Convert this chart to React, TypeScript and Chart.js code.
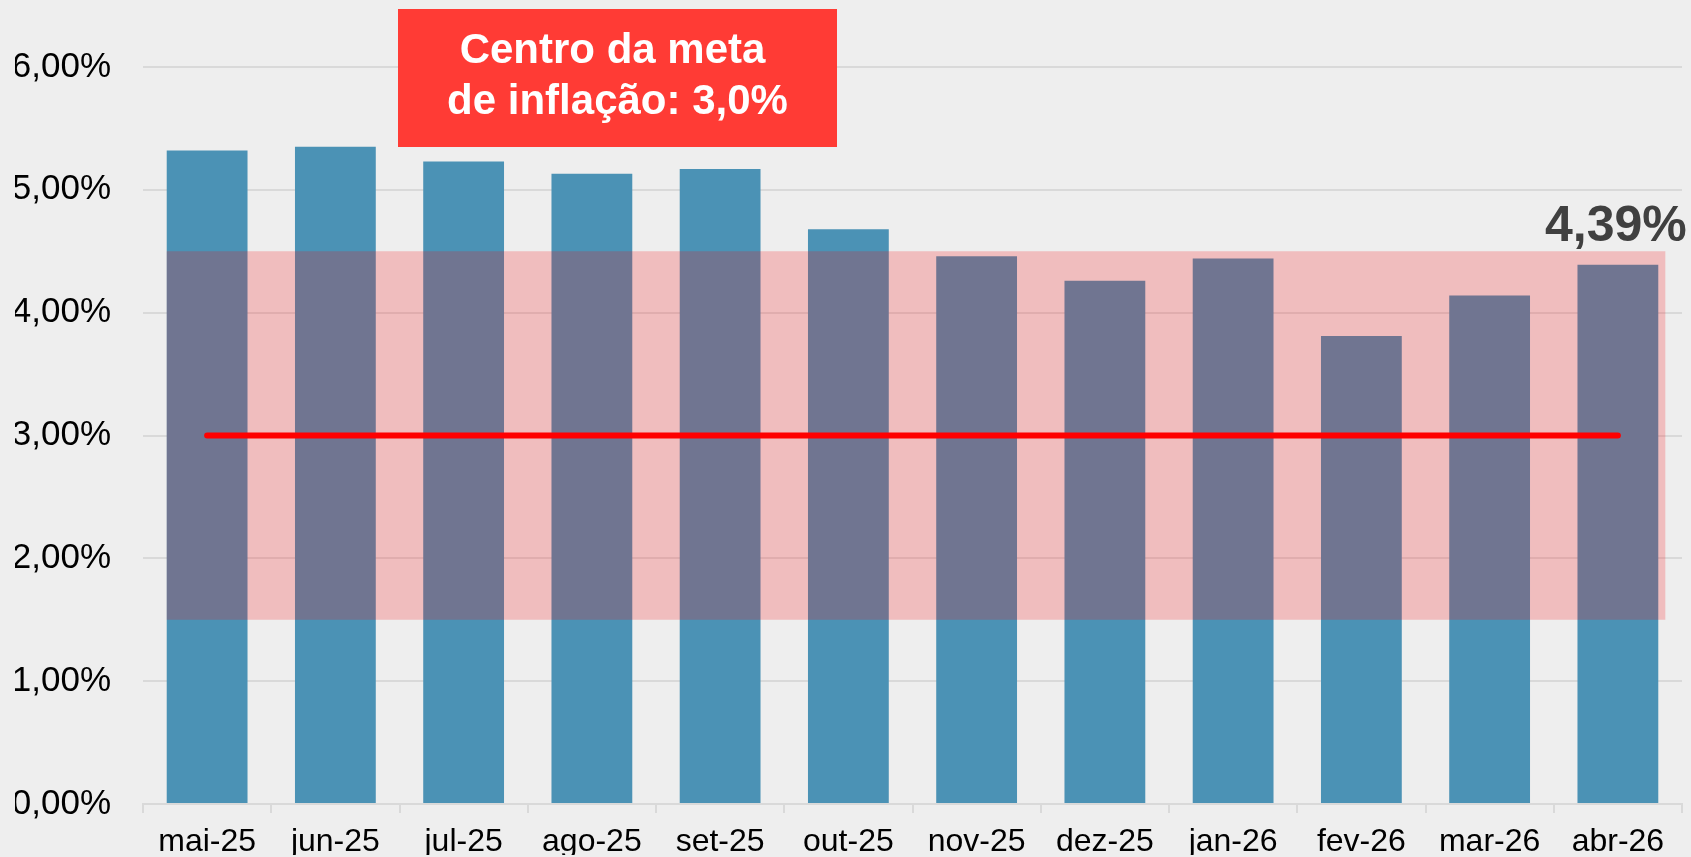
import React, { useEffect, useRef } from 'react';
import { Chart, registerables } from 'chart.js';

Chart.register(...registerables);

// ---- data ----
const CATEGORIES = [
  'mai-25', 'jun-25', 'jul-25', 'ago-25', 'set-25', 'out-25',
  'nov-25', 'dez-25', 'jan-26', 'fev-26', 'mar-26', 'abr-26',
];
const IPCA_12M = [5.32, 5.35, 5.23, 5.13, 5.17, 4.68, 4.46, 4.26, 4.44, 3.81, 4.14, 4.39];
const META_CENTRO = [3.0, 3.0, 3.0, 3.0, 3.0, 3.0, 3.0, 3.0, 3.0, 3.0, 3.0, 3.0];
const BAND_LOW = 1.5;
const BAND_HIGH = 4.5;
const BAND_X_START = -0.315;
const BAND_X_END = 11.37;
const Y_TICKS = [0, 1, 2, 3, 4, 5, 6];
const BOX_LINES = ['Centro da meta', 'de inflação: 3,0%'];

const FONT = '"Liberation Sans", Arial, sans-serif';
const fmtPct = (v: number) => v.toFixed(2).replace('.', ',') + '%';

const bandPlugin = {
  id: 'toleranceBand',
  afterDatasetDraw(chart: any, args: any) {
    if (args.index !== 0) return;
    const { ctx, scales } = chart;
    const x = scales.x;
    const y = scales.y;
    const left = x.getPixelForValue(BAND_X_START);
    const right = x.getPixelForValue(BAND_X_END);
    const top = y.getPixelForValue(BAND_HIGH);
    const bottom = y.getPixelForValue(BAND_LOW);
    ctx.save();
    ctx.fillStyle = 'rgba(252, 11, 15, 0.21)';
    ctx.fillRect(left, top, right - left, bottom - top);
    ctx.restore();
  },
};

const annotationPlugin = {
  id: 'annotations',
  afterDraw(chart: any) {
    const { ctx } = chart;
    const meta = chart.getDatasetMeta(0);
    const lastIdx = IPCA_12M.length - 1;
    const el = meta.data[lastIdx];
    ctx.save();
    ctx.fillStyle = '#404040';
    ctx.font = `bold 50px ${FONT}`;
    ctx.textAlign = 'center';
    ctx.textBaseline = 'alphabetic';
    ctx.fillText(fmtPct(IPCA_12M[lastIdx]), el.x - 2, el.y - 24);

    // red box
    const bx = 398, by = 9, bw = 439, bh = 138;
    ctx.fillStyle = '#FF3B35';
    ctx.fillRect(bx, by, bw, bh);
    ctx.fillStyle = '#FFFFFF';
    ctx.font = `bold 42px ${FONT}`;
    ctx.textAlign = 'center';
    ctx.fillText(BOX_LINES[0], bx + bw / 2 - 5, 63);
    ctx.fillText(BOX_LINES[1], bx + bw / 2, 114);
    ctx.restore();
  },
};

export default function App() {
  const canvasRef = useRef<HTMLCanvasElement | null>(null);

  useEffect(() => {
    const canvas = canvasRef.current;
    if (!canvas) return;
    const chart = new Chart(canvas, {
      type: 'bar',
      data: {
        labels: CATEGORIES,
        datasets: [
          {
            type: 'bar',
            label: 'IPCA 12 meses',
            data: IPCA_12M,
            backgroundColor: '#4B92B5',
            categoryPercentage: 1,
            barPercentage: 0.63,
            order: 2,
          } as any,
          {
            type: 'line',
            label: 'Centro da meta',
            data: META_CENTRO,
            borderColor: '#FF0000',
            borderWidth: 6,
            borderCapStyle: 'round',
            pointRadius: 0,
            fill: false,
            order: 1,
          } as any,
        ],
      },
      options: {
        animation: false,
        responsive: true,
        maintainAspectRatio: false,
        layout: { padding: { left: 15, right: 9, top: 67, bottom: 0 } },
        plugins: {
          legend: { display: false },
          tooltip: { enabled: false },
        },
        scales: {
          x: {
            afterFit: (scale: any) => {
              scale.height = 51;
            },
            grid: {
              drawOnChartArea: false,
              drawTicks: true,
              tickLength: 9,
              color: '#D9D9D9',
              lineWidth: 2,
            },
            border: { display: true, color: '#D9D9D9', width: 2 },
            ticks: {
              color: '#000000',
              font: { family: FONT, size: 32 },
              padding: 10,
              maxRotation: 0,
            },
          },
          y: {
            min: 0,
            max: 6,
            afterFit: (scale: any) => {
              scale.width = 128;
            },
            afterBuildTicks: (scale: any) => {
              scale.ticks = Y_TICKS.map((v) => ({ value: v }));
            },
            grid: {
              drawTicks: false,
              color: '#D9D9D9',
              lineWidth: 2,
            },
            border: { display: false },
            ticks: {
              color: '#000000',
              font: { family: FONT, size: 35 },
              padding: 32,
              callback: (v: any) => fmtPct(Number(v)),
            },
          },
        },
      },
      plugins: [bandPlugin, annotationPlugin],
    });
    return () => chart.destroy();
  }, []);

  return (
    <div
      style={{
        position: 'fixed',
        left: 0,
        top: 0,
        width: 1691,
        height: 857,
        background: '#EEEEEE',
      }}
    >
      <canvas ref={canvasRef} />
    </div>
  );
}
